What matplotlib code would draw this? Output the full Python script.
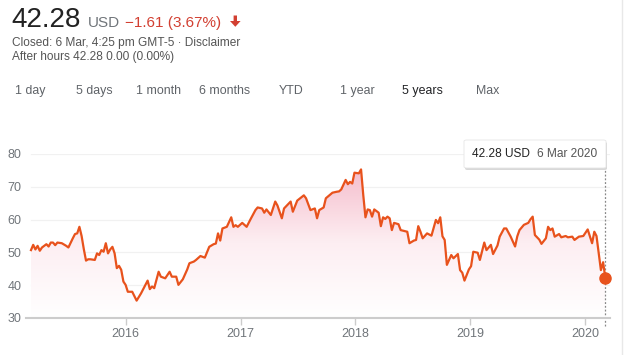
import numpy as np
import pandas as pd
import matplotlib
matplotlib.use("Agg")
import matplotlib.pyplot as plt
import matplotlib.dates as mdates
from matplotlib.patches import FancyBboxPatch, Polygon
from matplotlib.colors import LinearSegmentedColormap

plt.rcParams['font.family'] = ['Liberation Sans', 'DejaVu Sans']

# ---- data ----
start_date = "2015-03-06"
weeks = [0, 1, 2, 3, 4, 5, 6, 7, 8, 9, 10, 11, 12, 14, 16, 17, 19, 20, 21, 22, 23, 24,
         25, 26, 27, 29, 30, 31, 32, 33, 34, 35, 36, 37, 38, 39, 40, 41, 42,
         43, 44, 46, 48, 50, 51, 53, 54, 55, 56, 58, 59, 61, 63, 64, 66, 67, 69,
         71, 72, 74, 75, 77, 79, 81, 83, 84, 85, 86, 87, 89, 91, 92, 93, 94, 96,
         98, 100, 102, 103, 105, 106, 107, 109, 111, 112, 114, 115, 118, 119, 121,
         124, 125, 127, 129, 130, 131, 133, 134, 137, 139, 140, 141, 143, 144, 145,
         146, 147, 149, 150, 151, 152, 153, 154, 155, 156, 158, 159, 160, 161, 162,
         163, 164, 165, 167, 168, 171, 172, 174, 175, 176, 177, 178, 180, 182, 184,
         185, 186, 187, 188, 189, 191, 192, 194, 195, 196, 197, 199, 200, 201, 203,
         204, 206, 207, 209, 210, 212, 213, 215, 216, 218, 220, 221, 222, 224, 226,
         227, 228, 229, 231, 232, 234, 235, 236, 237, 238, 240, 241, 243, 244, 246,
         247, 249, 251, 253, 255, 256, 257, 259, 260, 261]
prices = [50.7, 52.3, 50.9, 52.0, 50.5, 51.5, 52.0, 52.5, 51.8, 53.0, 53.0, 52.2, 53.0,
          52.8, 52.0, 51.5, 54.3, 55.6, 55.8, 57.8, 55.0, 51.0,
          47.5, 47.9, 47.9, 47.7, 49.7, 49.2, 50.7, 50.2, 52.8, 49.7, 50.9, 51.7, 49.7,
          45.2, 45.9, 44.7, 41.1,
          40.1, 38.0, 38.0, 35.3, 37.5, 38.8, 41.4, 38.8, 39.6, 39.1, 44.1, 42.6, 42.1,
          44.1, 42.6, 42.6, 40.1, 41.8,
          44.8, 46.7, 47.2, 47.7, 48.9, 48.4, 51.7, 52.5, 52.7, 55.8, 53.6, 57.3, 57.8,
          60.7, 57.8, 58.3, 57.8, 59.0,
          57.8, 60.4, 62.9, 63.7, 63.4, 62.1, 63.1, 61.4, 65.5, 64.3, 60.4, 63.4, 65.5,
          62.4, 65.8,
          67.4, 66.5, 62.9, 63.4, 60.4, 62.9, 63.7, 66.5, 68.2, 68.5, 68.6, 69.2, 72.1,
          70.8, 71.5,
          71.0, 74.3, 74.1, 75.3, 67.5, 60.7, 63.1, 62.9, 60.9, 63.1, 62.1, 58.0, 60.7,
          60.2, 60.9,
          60.4, 56.8, 59.0, 58.6, 56.8, 56.3, 52.8, 53.6, 53.8, 58.0, 56.3, 54.3, 55.8,
          55.1, 59.9,
          58.9, 60.7, 54.9, 53.8, 46.2, 49.2, 48.2, 49.5, 44.6, 43.8, 41.4, 44.8, 45.8,
          50.2, 49.9,
          47.7, 53.0, 50.7, 52.3, 49.5, 52.1, 54.8, 57.3, 57.3, 54.8, 51.8, 54.9, 56.8,
          58.4, 59.0,
          60.1, 60.9, 55.3, 53.9, 52.6, 54.3, 57.8, 56.8, 57.3, 54.8, 55.6, 54.6, 55.0,
          54.6, 54.8,
          53.8, 54.8, 55.0, 57.0, 52.8, 56.3, 55.0, 44.6, 47.0, 42.28]
y_ticks = [30, 40, 50, 60, 70, 80]
x_tick_years = [2016, 2017, 2018, 2019, 2020]
tabs = ["1 day", "5 days", "1 month", "6 months", "YTD", "1 year", "5 years", "Max"]
active_tab = "5 years"

dates = pd.Timestamp(start_date) + pd.to_timedelta(np.array(weeks) * 7, unit="D")
prices = np.array(prices)

W, H = 628, 355
fig = plt.figure(figsize=(W / 100, H / 100), dpi=100)
fig.patch.set_facecolor("white")

def fx(px):
    return px / W

def fy(py):
    return 1 - py / H

LINE = "#e8521c"
GREY = "#70757a"
RED = "#d23f31"

# ---- header ----
fig.text(fx(11), fy(27), "42.28", fontsize=20, color="#222222", va="baseline", ha="left")
fig.text(fx(88), fy(27), "USD", fontsize=11, color=GREY, va="baseline", ha="left")
fig.text(fx(125), fy(27), "\u22121.61 (3.67%)", fontsize=11, color=RED,
         va="baseline", ha="left")
# down arrow icon
arrow_pts = [(233.6, 15.5), (237.0, 15.5), (237.0, 21.0), (240.6, 21.0),
             (235.3, 26.8), (230.0, 21.0), (233.6, 21.0)]
fig.patches.append(Polygon([(fx(a), fy(b)) for a, b in arrow_pts], closed=True,
                           transform=fig.transFigure, facecolor=RED, edgecolor="none"))
fig.text(fx(12), fy(46), "Closed: 6 Mar, 4:25 pm GMT-5 \u00b7 Disclaimer", fontsize=8.6,
         color="#555555", va="baseline", ha="left")
fig.text(fx(12), fy(60), "After hours 42.28 0.00 (0.00%)", fontsize=8.6,
         color="#555555", va="baseline", ha="left")

tab_x = [30, 94, 159, 225, 291, 357, 422, 488]
for t, x in zip(tabs, tab_x):
    fig.text(fx(x), fy(91), t, fontsize=8.9, ha="center", va="center",
             color="#202124" if t == active_tab else "#5f6368")

# ---- chart ----
x0_px, x1_px = 31, 605.3
y_top_px, y_bot_px = 154, 318
ax_left_px, ax_right_px = 26, 610
ax = fig.add_axes([fx(ax_left_px), fy(y_bot_px), (ax_right_px - ax_left_px) / W,
                   (y_bot_px - y_top_px) / H])
d0 = mdates.date2num(dates[0])
d1 = mdates.date2num(dates[-1])
per_px = (d1 - d0) / (x1_px - x0_px)
xlim = (d0 - (x0_px - ax_left_px) * per_px, d1 + (ax_right_px - x1_px) * per_px)

for s in ["top", "right", "left"]:
    ax.spines[s].set_visible(False)
ax.spines["bottom"].set_color("#cccccc")
ax.spines["bottom"].set_linewidth(1.5)

ax.set_yticks(y_ticks)
ax.set_yticklabels([str(v) for v in y_ticks])
ax.tick_params(axis="y", length=0, labelsize=9, labelcolor=GREY, pad=3)
for v in y_ticks[1:]:
    ax.axhline(v, color="#f1f1f1", lw=0.9, zorder=0,
               xmin=(x0_px - ax_left_px) / (ax_right_px - ax_left_px))

xt = [mdates.date2num(pd.Timestamp(f"{y}-01-01")) for y in x_tick_years]
ax.set_xticks(xt)
ax.set_xticklabels([str(y) for y in x_tick_years])
ax.tick_params(axis="x", length=5, width=1, color="#cccccc", labelsize=9,
               labelcolor=GREY, pad=2)

xd = mdates.date2num(dates)
# gradient fill
poly = ax.fill_between(xd, prices, 30, facecolor="none", edgecolor="none")
cmap = LinearSegmentedColormap.from_list("pinkgrad", ["#ffffff", "#fdeef2", "#f5bccb"])
grad = np.linspace(0, 1, 256).reshape(-1, 1)
im = ax.imshow(grad, extent=[xd[0], xd[-1], 30, 76], origin="lower", aspect="auto",
               cmap=cmap, zorder=1, interpolation="bicubic")
path = poly.get_paths()[0]
im.set_clip_path(path, transform=ax.transData)
ax.set_xlim(*xlim)
ax.set_ylim(30, 80)

ax.plot(xd, prices, color=LINE, lw=1.6, zorder=3, solid_joinstyle="round")
ax.plot([xd[-1]], [prices[-1]], "o", color=LINE, ms=8, zorder=4, clip_on=False)

# dotted hover line
ax.plot([xd[-1], xd[-1]], [27.6, 75.7], color="#888888", lw=0.9, ls=(0, (1.5, 1.5)),
        zorder=2, clip_on=False)

# tooltip
bx0, bx1, by0, by1 = 464, 606, 140, 168
shadow = FancyBboxPatch((fx(bx0 + 1), fy(by1 + 2)), fx(bx1 - bx0), (by1 - by0) / H,
                        boxstyle="round,pad=0,rounding_size=0.004",
                        transform=fig.transFigure, facecolor="#d8d8d8",
                        edgecolor="none", zorder=5)
fig.patches.append(shadow)
box = FancyBboxPatch((fx(bx0), fy(by1)), fx(bx1 - bx0), (by1 - by0) / H,
                     boxstyle="round,pad=0,rounding_size=0.004",
                     transform=fig.transFigure, facecolor="white",
                     edgecolor="#e6e6e6", lw=0.6, zorder=6)
fig.patches.append(box)
fig.text(fx(472), fy(154), "42.28 USD", fontsize=8.6, color="#222222", ha="left",
         va="center", zorder=7)
fig.text(fx(537), fy(154), "6 Mar 2020", fontsize=8.6, color="#555555", ha="left",
         va="center", zorder=7)

# right page border
fig.add_artist(plt.Line2D([fx(622), fx(622)], [0, 1], color="#e8e8e8", lw=1,
                          transform=fig.transFigure))

fig.savefig("out.png", dpi=100, facecolor="white")
